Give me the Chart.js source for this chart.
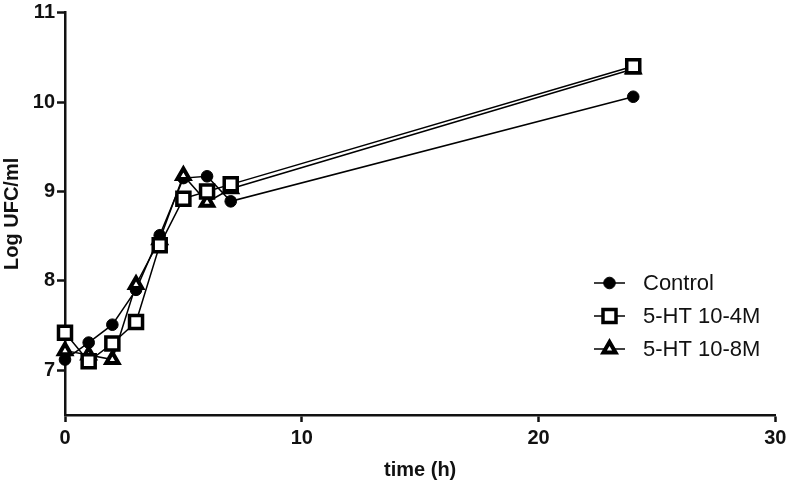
<!DOCTYPE html>
<html>
<head>
<meta charset="utf-8">
<script src="https://cdn.jsdelivr.net/npm/chart.js@4/dist/chart.umd.min.js"></script>
<style>
html,body{margin:0;padding:0;background:#fff;}
#wrap{width:788px;height:482px;position:relative;}
</style>
</head>
<body>
<div id="wrap"><canvas id="c" width="788" height="482"></canvas></div>
<script>
const times = [0, 1, 2, 3, 4, 5, 6, 7, 24];
const controlValues = [7.12, 7.31, 7.51, 7.90, 8.51, 9.15, 9.17, 8.89, 10.06];
const ht4Values = [7.42, 7.10, 7.30, 7.54, 8.40, 8.92, 9.00, 9.08, 10.40];
const ht8Values = [7.22, 7.17, 7.12, 7.96, 8.46, 9.18, 8.88, 9.03, 10.37];
const seriesNames = ['Control', '5-HT 10-4M', '5-HT 10-8M'];
const xTicks = [0, 10, 20, 30];
const yTicks = [7, 8, 9, 10, 11];
const xTitle = 'time (h)';
const yTitle = 'Log UFC/ml';

const toPts = vals => times.map((t, i) => ({x: t, y: vals[i]}));
const FONT = "'Liberation Sans', Arial, sans-serif";

const styles = [
  {pointStyle: 'circle', pointRadius: 5.8, pointBorderWidth: 1, pointBackgroundColor: '#000', order: 3},
  {pointStyle: 'rect', pointRadius: 9.2, pointBorderWidth: 3.5, pointBackgroundColor: '#fff', order: 1},
  {pointStyle: 'triangle', pointRadius: 7, pointBorderWidth: 4, pointBackgroundColor: '#fff', order: 2}
];
const allValues = [controlValues, ht4Values, ht8Values];

const datasets = allValues.map((vals, i) => Object.assign({
  label: seriesNames[i],
  data: toPts(vals),
  borderColor: '#000',
  borderWidth: 1.5,
  pointBorderColor: '#000',
  pointHoverRadius: 0,
  tension: 0,
  clip: false,
  fill: false
}, styles[i]));

const legendPlugin = {
  id: 'customLegend',
  afterDraw(chart) {
    const ctx = chart.ctx;
    const rows = [283, 316, 349];
    ctx.save();
    seriesNames.forEach((name, i) => {
      const y = rows[i];
      ctx.strokeStyle = '#000';
      ctx.lineWidth = 1.5;
      ctx.beginPath();
      ctx.moveTo(594, y);
      ctx.lineTo(625, y);
      ctx.stroke();
      ctx.fillStyle = styles[i].pointBackgroundColor;
      ctx.strokeStyle = '#000';
      ctx.lineWidth = styles[i].pointBorderWidth;
      Chart.helpers.drawPoint(ctx, {pointStyle: styles[i].pointStyle, radius: styles[i].pointRadius, borderWidth: styles[i].pointBorderWidth, rotation: 0}, 609.5, y);
      ctx.fillStyle = '#111';
      ctx.font = '22px ' + FONT;
      ctx.textBaseline = 'middle';
      ctx.textAlign = 'left';
      ctx.fillText(name, 643, y + 1);
    });
    ctx.restore();
  }
};

new Chart(document.getElementById('c'), {
  type: 'line',
  data: {datasets},
  options: {
    responsive: false,
    animation: false,
    events: [],
    layout: {padding: {left: 0, right: 12, top: 6, bottom: 0}},
    plugins: {legend: {display: false}, tooltip: {enabled: false}},
    scales: {
      x: {
        type: 'linear',
        min: 0, max: 30,
        afterBuildTicks: s => { s.ticks = xTicks.map(v => ({value: v})); },
        afterFit: s => { s.height = 67; s.paddingLeft = 0; s.paddingRight = 0; },
        grid: {drawOnChartArea: false, tickLength: 7, tickWidth: 2.5, tickColor: '#111'},
        border: {color: '#111', width: 2.5},
        ticks: {color: '#111', padding: 4, maxRotation: 0, font: {family: FONT, size: 20, weight: 'bold'}},
        title: {display: true, text: xTitle, color: '#111', padding: {top: 2, bottom: 0}, font: {family: FONT, size: 20, weight: 'bold'}}
      },
      y: {
        type: 'linear',
        min: 6.5, max: 11,
        afterBuildTicks: s => { s.ticks = yTicks.map(v => ({value: v})); },
        afterFit: s => { s.width = 65; s.paddingTop = 0; s.paddingBottom = 0; },
        grid: {drawOnChartArea: false, tickLength: 8, tickWidth: 2.5, tickColor: '#111'},
        border: {color: '#111', width: 2.5},
        ticks: {color: '#111', padding: 2, font: {family: FONT, size: 20, weight: 'bold'}},
        title: {display: true, text: yTitle, color: '#111', padding: {top: 0, bottom: 4}, font: {family: FONT, size: 20, weight: 'bold'}}
      }
    }
  },
  plugins: [legendPlugin]
});
</script>
</body>
</html>
